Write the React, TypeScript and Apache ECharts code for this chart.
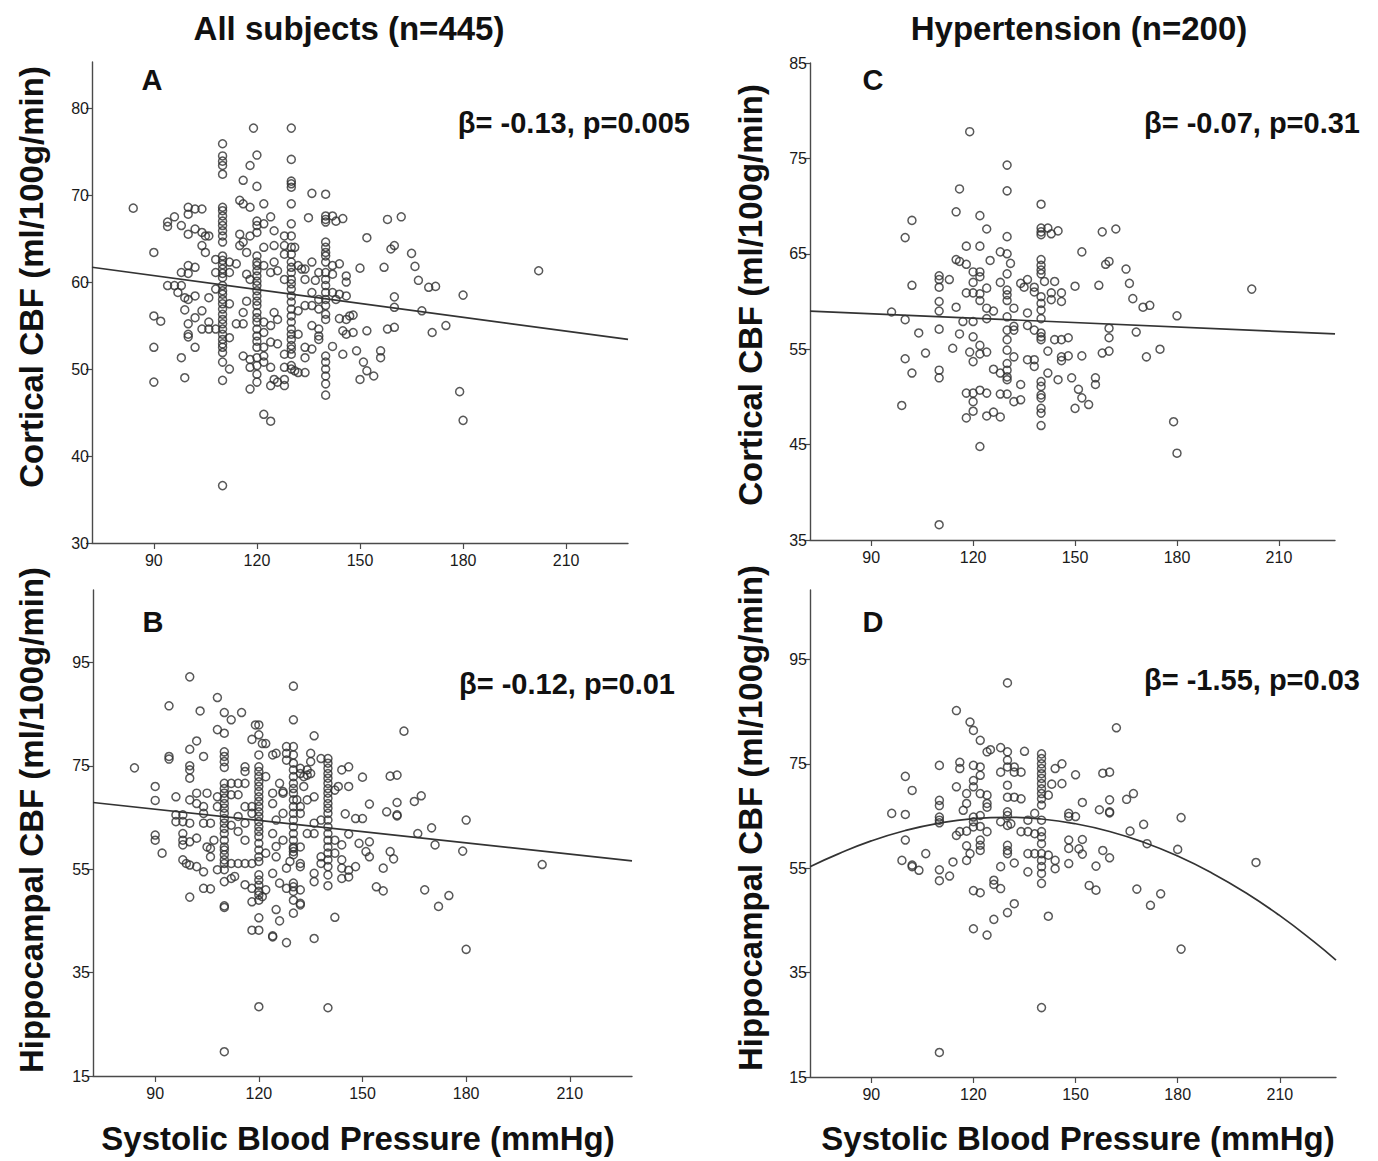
import { useEffect, useRef } from "react";
import * as echarts from "echarts";

// ---------- tick labels ----------
const X_TICKS = [90, 120, 150, 180, 210];
const Y_TICKS_A = [30, 40, 50, 60, 70, 80];
const Y_TICKS_B = [15, 35, 55, 75, 95];
const Y_TICKS_C = [35, 45, 55, 65, 75, 85];
const Y_TICKS_D = [15, 35, 55, 75, 95];

// ---------- Panel A: all subjects, cortical CBF ----------
const A_SCATTER: number[][] = [
  [84,68.5],[90,63.4],[94,66.9],[94,66.4],[96,67.5],[98,66.5],[100,68.6],[100,67.8],[102,68.4],[104,68.4],[100,65.5],[102,66.1],[104,65.7],[105,65.3],[106,65.3],[104,64.2],[105,63.4],[98,61.1],[100,61.9],[100,61.0],[102,61.7],[108,62.6],[108,61.1],[112,62.3],[112,61.1],[114,62.1],
  [115,69.4],[116,69.0],[118,68.6],[122,69.0],[116,71.7],[120,71.0],[119,77.7],[120,74.6],[118,73.4],[124,67.5],[120,67.0],[122,66.7],[120,66.5],[125,65.9],[120,65.7],[118,65.3],[115,65.5],[116,64.6],[115,64.2],[122,64.0],[125,64.2],[117,63.4],[122,61.9],[124,61.1],[117,60.9],[125,62.3],[118,60.3],
  [128,65.3],[128,64.2],[131,64.0],[128,63.2],[126,61.3],[128,60.3],[132,61.9],
  [90,56.1],[92,55.5],[90,52.5],[90,48.5],[98,51.3],[99,49.0],[94,59.6],[96,59.6],[97,58.8],[99,58.2],[100,58.0],[102,58.4],[98,59.6],[99,56.8],[102,55.9],[104,56.7],[100,55.2],[100,54.0],[100,53.7],[104,54.6],[106,55.4],[102,52.5],[106,58.2],[108,59.2],[106,54.6],[108,54.6],
  [112,57.5],[112,53.6],[112,50.0],[114,55.2],[116,55.2],[117,57.8],[116,56.5],[116,51.5],[118,50.2],[118,47.7],[118,51.1],[122,44.8],[124,44.0],
  [122,55.4],[122,54.2],[122,52.5],[122,51.5],[122,50.8],[124,53.1],[124,50.2],[125,48.8],[124,48.1],[126,48.5],[128,48.1],[128,48.8],[126,52.9],[128,51.7],[128,50.2],[126,55.7],[125,56.5],[124,55.0],
  [132,54.0],[132,49.6],[131,49.8],[132,56.7],
  [136,70.2],[135,67.4],[142,67.6],[143,67.0],[145,67.3],[152,65.1],[158,67.2],[162,67.5],[159,63.8],[160,64.2],[165,63.3],[166,61.8],[167,60.2],[170,59.4],[172,59.5],[180,58.5],[202,61.3],[179,47.4],[180,44.1],[168,56.7],[160,58.3],[160,57.1],[160,54.8],[158,54.6],[171,54.2],[175,55.0],[150,61.6],[157,61.7],[146,58.4],[148,56.2],[146,55.7],[144,55.8],[152,54.4],[148,54.2],[146,54.0],[145,54.4],[149,52.1],[145,51.7],[142,52.6],[156,52.1],[156,51.3],[150,48.8],[152,49.8],[151,50.8],[154,49.2],
  [142,58.8],[142,61.9],[144,62.1],[144,58.6],[146,60.7],[146,60.0],[142,60.9],[143,58.0],[147,56.1],
  [133,61.5],[134,61.5],[136,62.3],[134,60.3],[138,61.1],[137,60.2],[136,58.8],[138,58.0],[134,57.3],[136,57.3],[138,56.9],[136,55.0],[138,54.6],[138,53.8],[134,52.5],[136,52.3],[134,51.3],[134,49.6],[138,53.4],
];
const A_COL_110 = [75.9,74.5,73.9,73.4,72.4,68.6,68.2,67.6,67.0,66.5,65.9,65.3,64.6,63.0,62.5,62.0,61.5,61.0,60.5,59.6,59.0,58.6,58.0,57.5,56.9,56.3,55.7,55.2,54.6,54.0,53.4,52.9,52.5,51.9,50.8,48.7,36.6];
const A_COL_120 = [63.0,62.3,61.9,61.3,60.7,60.1,59.6,59.0,58.4,57.8,57.3,56.5,55.9,55.4,54.6,53.8,53.2,52.5,51.3,50.4,49.4,48.5];
const A_COL_130 = [77.7,74.1,71.6,71.3,70.9,69.0,66.7,65.3,64.0,63.2,62.3,61.7,61.1,60.3,59.8,59.2,58.4,57.7,56.9,56.1,55.4,54.6,54.0,53.4,52.7,52.3,51.7,50.4,50.0];
const A_COL_140 = [70.1,67.6,67.2,66.9,64.6,64.0,63.4,63.0,62.3,61.1,60.3,59.6,58.8,58.0,57.3,56.3,55.7,51.5,50.8,50.0,49.2,48.3,47.0];
const A_FIT = [[72, 61.7], [228, 53.4]];

// ---------- Panel B: all subjects, hippocampal CBF ----------
const B_SCATTER: number[][] = [
  [100,92.2],[94,86.6],[108,88.2],[103,85.6],[110,85.3],[112,83.9],[115,85.3],[130,90.4],[130,83.9],[119,82.9],[120,82.9],[120,81.0],[118,80.1],[121,79.3],[122,79.3],[108,82.0],[110,81.3],[102,79.8],[100,78.2],[104,76.8],[94,76.8],[94,76.3],[84,74.6],[100,75.0],[100,74.2],[100,72.6],[90,71.0],[90,68.3],[96,69.0],[100,68.4],[102,69.7],[102,67.7],[105,69.7],[104,67.1],
  [112,71.6],[114,71.6],[116,71.6],[116,74.8],[116,73.9],[112,69.4],[114,69.4],[116,67.1],[118,67.1],[118,65.8],[114,65.2],[116,63.9],[114,62.3],[116,60.6],[112,63.5],[120,77.1],
  [124,77.1],[125,77.4],[122,72.9],[124,69.7],[124,67.7],[126,71.6],[127,70.0],[128,78.7],[128,77.4],[128,76.1],[127,69.7],[127,65.8],[125,64.5],[124,61.9],[127,60.6],
  [132,74.5],[132,73.5],[134,74.2],[134,73.2],[131,68.4],[132,65.8],
  [96,65.5],[96,64.2],[98,65.5],[98,64.2],[100,63.9],[90,61.6],[90,60.6],[104,63.9],[106,63.9],[104,65.8],[108,67.1],[108,69.0],[98,61.9],[98,60.6],[100,60.3],[102,61.0],[105,59.3],[107,60.6],
  [92,58.1],[98,59.7],[98,56.8],[99,56.1],[100,55.8],[102,55.5],[104,54.5],[100,49.6],[104,51.3],[106,51.2],[108,54.9],[112,53.2],[113,53.6],[106,59.0],[106,57.4],[112,56.1],[114,56.1],[116,56.1],[118,56.1],[116,52.0],[118,51.3],[118,48.7],[122,51.0],[121,49.7],[118,43.2],[124,42.1],[124,41.9],[125,47.2],[126,45.0],[128,40.8],[122,58.1],[125,59.4],[125,57.4],[128,55.2],[129,56.5],[132,56.1],[124,54.2],[126,52.3],[128,51.3],[132,48.4],
  [136,80.8],[162,81.7],[135,77.4],[135,75.8],[138,76.4],
  [144,74.2],[146,74.8],[146,71.0],[143,71.0],[142,70.3],[150,72.8],[152,67.6],[158,73.0],[160,73.2],[157,66.1],[160,67.9],[160,65.5],[160,65.3],[165,68.1],[167,69.2],[170,63.0],[166,61.9],[180,64.5],[171,59.7],[179,58.5],[202,55.9],[158,58.4],[159,57.0],[156,55.2],[154,51.6],[156,50.8],[168,51.0],[175,49.9],[172,47.8],[180,39.5],[142,45.7],[136,41.6],[145,65.7],[148,64.8],[150,64.8],
  [146,61.8],[149,60.0],[152,60.3],[151,58.4],[152,57.4],[148,55.5],[146,54.8],[144,59.7],[142,60.6],[142,58.1],[144,56.8],[144,55.2],[146,53.5],[144,53.2],
  [138,57.4],[138,56.1],[136,54.2],[136,52.6],
  [132,67.1],[134,68.4],[133,71.0],[133,72.9],[135,73.5],[136,69.0],[136,63.9],[138,64.5],[134,61.9],[136,61.9],[132,59.3],[132,55.5],[132,51.0],[132,48.1],
];
const B_COL_110 = [77.7,76.8,75.8,74.7,71.6,70.6,69.7,68.7,67.7,66.8,65.8,64.8,63.9,62.9,61.9,60.6,59.3,58.7,57.8,56.8,56.1,54.9,52.6,47.9,47.6,19.7];
const B_COL_120 = [74.8,73.9,72.9,71.9,71.0,70.0,69.0,68.1,67.1,66.1,65.2,64.2,63.2,62.3,61.3,60.0,58.7,57.4,56.5,53.9,52.9,51.9,50.7,50.0,49.0,45.6,43.2,28.4];
const B_COL_130 = [78.7,77.1,75.5,74.2,72.9,71.6,70.6,69.7,68.4,67.1,65.8,64.5,63.2,61.9,60.6,59.3,59.0,58.4,57.8,52.3,51.6,50.7,49.0,46.5];
const B_COL_140 = [76.4,75.5,74.5,73.5,72.6,71.6,70.6,69.7,68.7,67.7,66.8,65.8,64.5,63.2,61.9,60.6,59.3,58.1,56.8,55.5,53.9,51.8,28.2];
const B_FIT = [[72, 67.9], [228, 56.6]];

// ---------- Panel C: hypertension, cortical CBF ----------
const C_SCATTER: number[][] = [
  [119,77.8],[116,71.8],[115,69.4],[122,69.0],[102,68.5],[100,66.7],[142,67.7],[143,67.1],[145,67.4],[124,67.6],[118,65.8],[122,65.8],[115,64.4],[116,64.2],[118,63.9],[125,64.3],[128,65.2],[131,64.0],[122,63.1],[122,62.6],[113,62.3],[102,61.7],[118,60.9],[122,60.8],[124,61.4],[122,60.1],[128,62.0],[132,59.3],[134,61.9],[135,61.5],[136,62.3],[138,61.5],[138,61.0],
  [141,62.1],[144,62.1],[143,60.9],[143,60.2],[146,60.9],[146,60.0],
  [115,59.4],[124,59.3],[126,59.0],[124,58.2],[96,58.9],[100,58.1],[104,56.7],[116,56.6],[117,57.9],[132,57.4],[132,57.0],[132,54.2],
  [136,58.8],[136,57.5],[138,57.0],[142,54.8],[144,56.0],[146,56.0],[148,56.2],
  [122,55.4],[122,54.5],[119,54.7],[124,54.7],[114,55.1],[100,54.0],[106,54.6],[102,52.5],
  [126,52.9],[128,52.5],[134,51.3],[136,53.9],[138,53.9],[138,53.2],[142,52.5],[145,51.8],[146,54.2],[146,53.8],
  [118,50.4],[122,50.7],[124,50.4],[118,47.8],[124,48.0],[126,48.4],[128,47.9],[128,50.3],[132,49.5],[134,49.7],
  [99,49.1],[122,44.8],
  [158,67.3],[162,67.6],[152,65.2],[159,63.9],[160,64.2],[165,63.4],[150,61.6],[157,61.7],[166,61.9],[167,60.3],[170,59.4],[172,59.6],[180,58.5],[202,61.3],[160,57.2],[160,56.2],[160,54.8],[158,54.6],[168,56.8],[171,54.2],[175,55.0],[152,54.3],[148,54.3],[149,52.0],[156,52.0],[156,51.3],[151,50.8],[152,49.9],[154,49.2],[150,48.8],[179,47.4],[180,44.1],
];
const C_COL_110 = [62.7,62.3,61.5,60.0,59.0,57.1,52.8,52.0,36.6];
const C_COL_120 = [63.1,62.0,60.9,57.9,56.3,53.7,50.4,49.5,48.5];
const C_COL_130 = [74.3,71.6,66.8,65.0,62.9,61.2,60.7,60.1,58.4,57.0,56.0,54.9,53.5,52.8,52.1,51.8,50.3];
const C_COL_140 = [70.2,67.7,67.3,67.0,64.4,63.8,63.3,62.9,60.5,59.8,59.1,58.2,56.7,56.3,56.0,51.6,51.1,50.2,49.9,48.8,48.3,47.0];
const C_FIT = [[72, 59.0], [226.5, 56.6]];

// ---------- Panel D: hypertension, hippocampal CBF ----------
const D_SCATTER: number[][] = [
  [130,90.5],[115,85.2],[119,83.0],[120,81.4],[122,79.5],[124,77.3],[125,77.7],[128,78.1],[135,77.4],[132,74.4],[132,73.4],[134,73.4],[128,73.4],
  [144,74.1],[146,75.0],[143,71.1],[142,69.0],[146,71.2],
  [100,72.6],[102,69.9],
  [116,75.3],[116,74.1],[122,74.4],[122,72.8],[118,69.3],[122,69.3],[124,69.0],[124,67.4],[124,66.7],
  [115,70.6],[132,68.6],[134,68.3],[96,65.5],[100,65.3],
  [117,66.1],[118,67.4],[122,65.1],[122,63.0],[124,62.0],
  [128,63.9],[131,63.5],
  [136,64.2],[138,65.5],[136,62.0],[134,62.0],[138,61.6],
  [116,62.0],[118,62.1],[115,61.3],
  [100,60.4],[106,57.8],[99,56.5],[102,55.6],[102,55.3],[104,54.6],[113,53.5],
  [114,56.2],[118,56.5],[118,59.3],[119,57.8],[122,60.4],[122,59.4],[122,58.4],
  [132,56.0],[128,55.3],[136,57.8],[136,54.3],
  [138,57.8],[142,57.5],[144,56.5],[144,54.9],
  [126,52.7],[126,51.9],[128,51.1],[122,50.3],[132,48.2],[126,45.2],[142,45.8],[124,42.2],
  [148,65.5],[148,60.4],[148,58.8],[148,55.9],
  [162,81.9],[158,73.2],[160,73.4],[150,72.9],[167,69.3],[165,68.2],[152,67.6],[160,68.1],[157,66.2],[160,65.8],[160,65.6],[181,64.7],[170,63.4],[166,62.1],[171,59.7],[180,58.6],[203,56.1],[158,58.4],[160,57.0],[156,55.4],[152,60.5],[152,57.7],[151,58.7],[154,51.7],[156,50.8],[168,51.0],[175,50.1],[172,47.9],[181,39.5],[148,64.9],[150,64.9],
];
const D_COL_110 = [74.7,68.0,67.0,64.8,64.2,63.7,54.7,52.6,19.7];
const D_COL_120 = [74.7,71.8,70.6,64.8,63.9,62.9,50.7,43.4];
const D_COL_130 = [77.3,75.7,74.4,70.9,68.6,65.8,65.1,63.2,59.4,58.4,57.8,46.5];
const D_COL_140 = [76.9,76.0,75.0,74.1,73.1,72.2,71.2,70.2,69.3,68.3,67.1,64.2,62.0,61.0,59.7,57.8,56.5,55.3,54.0,52.1,28.3];
// quadratic fit curve
const D_FIT = [[72,55.3],[80,57.65],[90,60.23],[100,62.23],[110,63.65],[120,64.49],[130,64.75],[140,64.43],[150,63.52],[160,62.04],[170,59.98],[180,57.33],[190,54.1],[200,50.3],[210,45.91],[220,40.94],[226.5,37.4]];

// ---------- texts ----------
const HEAD_LEFT = "All subjects (n=445)";
const HEAD_RIGHT = "Hypertension (n=200)";
const Y_TITLE_TOP = "Cortical CBF (ml/100g/min)";
const Y_TITLE_BOTTOM = "Hippocampal CBF (ml/100g/min)";
const X_TITLE = "Systolic Blood Pressure (mmHg)";
const STATS = ["β= -0.13, p=0.005", "β= -0.12, p=0.01", "β= -0.07, p=0.31", "β= -1.55, p=0.03"];
const LETTERS = ["A", "B", "C", "D"];

function merge(scatter: number[][], cols: [number, number[]][]) {
  const out = scatter.slice();
  cols.forEach(([x, ys]) => ys.forEach((y) => out.push([x, y])));
  return out;
}

const FONT = "'Liberation Sans', Arial, Helvetica, sans-serif";
const AXIS_COLOR = "#4a4a4a";

function xAxisCfg(gridIndex: number, max: number) {
  return {
    type: "value",
    gridIndex,
    min: 72,
    max,
    axisLine: { show: true, onZero: false, lineStyle: { color: AXIS_COLOR, width: 1.4 } },
    axisTick: { show: true, length: 6, customValues: X_TICKS, lineStyle: { color: AXIS_COLOR, width: 1.2 } },
    axisLabel: { customValues: X_TICKS, fontSize: 16, color: "#1a1a1a", margin: 9, fontFamily: FONT },
    splitLine: { show: false },
  };
}
function yAxisCfg(gridIndex: number, min: number, max: number, ticks: number[]) {
  return {
    type: "value",
    gridIndex,
    min,
    max,
    axisLine: { show: true, onZero: false, lineStyle: { color: AXIS_COLOR, width: 1.4 } },
    axisTick: { show: true, length: 6, customValues: ticks, lineStyle: { color: AXIS_COLOR, width: 1.2 } },
    axisLabel: { customValues: ticks, fontSize: 16, color: "#1a1a1a", margin: 3, fontFamily: FONT },
    splitLine: { show: false },
  };
}
function scatterCfg(i: number, data: number[][]) {
  return {
    type: "scatter",
    xAxisIndex: i,
    yAxisIndex: i,
    data,
    symbol: "circle",
    symbolSize: 8,
    itemStyle: { color: "rgba(255,255,255,0)", borderColor: "#2e2e2e", borderWidth: 1.5 },
    silent: true,
  };
}
function fitCfg(i: number, data: number[][], smooth: boolean) {
  return {
    type: "line",
    xAxisIndex: i,
    yAxisIndex: i,
    data,
    smooth,
    showSymbol: false,
    symbol: "none",
    lineStyle: { color: "#333", width: 1.7 },
    silent: true,
    z: 3,
  };
}
function txt(x: number, y: number, text: string, size: number, align: string, rotation = 0) {
  return {
    type: "text",
    x,
    y,
    rotation,
    style: {
      text,
      fill: "#111",
      font: `bold ${size}px ${FONT}`,
      textAlign: align,
      textVerticalAlign: "middle",
    },
  };
}

export default function App() {
  const ref = useRef<HTMLDivElement>(null);
  useEffect(() => {
    document.body.style.margin = "0";
    const chart = echarts.init(ref.current!, null, { renderer: "svg" });
    const aData = merge(A_SCATTER, [[110, A_COL_110], [120, A_COL_120], [130, A_COL_130], [140, A_COL_140]]);
    const bData = merge(B_SCATTER, [[110, B_COL_110], [120, B_COL_120], [130, B_COL_130], [140, B_COL_140]]);
    const cData = merge(C_SCATTER, [[110, C_COL_110], [120, C_COL_120], [130, C_COL_130], [140, C_COL_140]]);
    const dData = merge(D_SCATTER, [[110, D_COL_110], [120, D_COL_120], [130, D_COL_130], [140, D_COL_140]]);
    chart.setOption({
      animation: false,
      backgroundColor: "#ffffff",
      grid: [
        { left: 92, top: 62, width: 536, height: 481 },
        { left: 93, top: 590, width: 539, height: 486 },
        { left: 810, top: 63, width: 525, height: 477 },
        { left: 810, top: 590, width: 526, height: 487 },
      ],
      xAxis: [xAxisCfg(0, 228), xAxisCfg(1, 228), xAxisCfg(2, 226.5), xAxisCfg(3, 226.5)],
      yAxis: [
        yAxisCfg(0, 30, 85.3, Y_TICKS_A),
        yAxisCfg(1, 15, 109, Y_TICKS_B),
        yAxisCfg(2, 35, 85, Y_TICKS_C),
        yAxisCfg(3, 15, 108.3, Y_TICKS_D),
      ],
      series: [
        scatterCfg(0, aData),
        scatterCfg(1, bData),
        scatterCfg(2, cData),
        scatterCfg(3, dData),
        fitCfg(0, A_FIT, false),
        fitCfg(1, B_FIT, false),
        fitCfg(2, C_FIT, false),
        fitCfg(3, D_FIT, true),
      ],
      graphic: [
        txt(349, 28, HEAD_LEFT, 33, "center"),
        txt(1079, 28, HEAD_RIGHT, 33, "center"),
        txt(358, 1138, X_TITLE, 33, "center"),
        txt(1078, 1138, X_TITLE, 33, "center"),
        txt(31, 277, Y_TITLE_TOP, 33, "center", Math.PI / 2),
        txt(31, 820, Y_TITLE_BOTTOM, 33, "center", Math.PI / 2),
        txt(750, 295, Y_TITLE_TOP, 33, "center", Math.PI / 2),
        txt(750, 818, Y_TITLE_BOTTOM, 33, "center", Math.PI / 2),
        txt(152, 80, LETTERS[0], 29, "center"),
        txt(153, 622, LETTERS[1], 29, "center"),
        txt(873, 80, LETTERS[2], 29, "center"),
        txt(873, 622, LETTERS[3], 29, "center"),
        txt(690, 123, STATS[0], 29, "right"),
        txt(675, 684, STATS[1], 29, "right"),
        txt(1360, 123, STATS[2], 29, "right"),
        txt(1360, 680, STATS[3], 29, "right"),
      ],
    });
    return () => chart.dispose();
  }, []);
  return (
    <div
      ref={ref}
      style={{ position: "absolute", left: 0, top: 0, width: 1378, height: 1161, background: "#fff" }}
    />
  );
}
